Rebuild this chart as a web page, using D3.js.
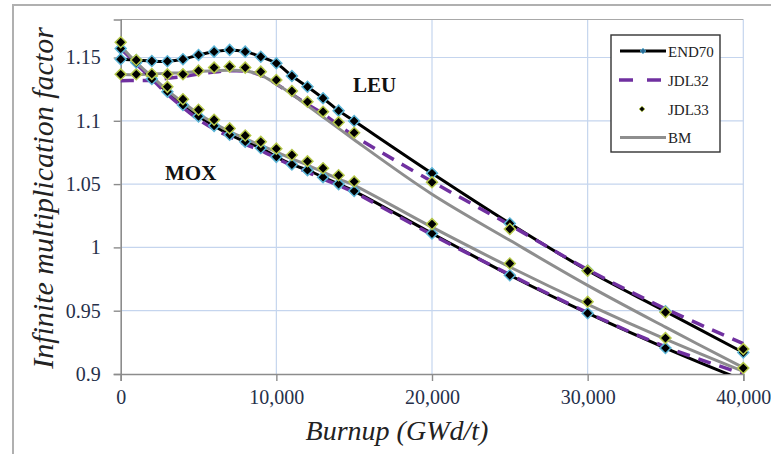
<!DOCTYPE html>
<html>
<head>
<meta charset="utf-8">
<script src="https://cdn.jsdelivr.net/npm/d3@7"></script>
<style>
  html, body { margin: 0; padding: 0; background: #fff; }
  svg { display: block; }
  text { font-family: "Liberation Serif", "Times New Roman", "DejaVu Serif", serif; }
</style>
</head>
<body>
<svg id="chart" width="771" height="454"></svg>
<script>
// ---- data ----
const burnup = [0,1000,2000,3000,4000,5000,6000,7000,8000,9000,10000,11000,12000,13000,14000,15000,20000,25000,30000,35000,40000];

const leuEND70 = [1.1486,1.148,1.1472,1.147,1.1486,1.152,1.1546,1.156,1.1546,1.1506,1.1454,1.1354,1.1269,1.1178,1.108,1.0998,1.0585,1.0189,0.9818,0.9495,0.917];
const leuJDL32 = [1.1317,1.1318,1.132,1.1335,1.135,1.137,1.1385,1.1395,1.1392,1.136,1.129,1.121,1.113,1.1055,1.0965,1.088,1.052,1.0177,0.9825,0.9515,0.924];
const leuJDL33 = [1.1367,1.1367,1.1354,1.1367,1.1367,1.1396,1.142,1.1428,1.142,1.1388,1.1322,1.1235,1.115,1.1072,1.0988,1.0906,1.0514,1.0145,0.9815,0.9488,0.9197];
const leuBM    = [1.1365,1.1365,1.137,1.1375,1.138,1.139,1.1395,1.14,1.1395,1.136,1.129,1.121,1.112,1.103,1.094,1.085,1.042,1.0056,0.970,0.937,0.905];

const moxEND70 = [1.157,1.146,1.133,1.123,1.1125,1.1035,1.096,1.089,1.0835,1.0785,1.0715,1.0655,1.061,1.0555,1.050,1.0445,1.011,0.978,0.948,0.9205,0.895];
const moxJDL32 = [1.157,1.145,1.133,1.121,1.1105,1.101,1.0935,1.0875,1.0815,1.0765,1.0705,1.0645,1.0595,1.054,1.049,1.0435,1.010,0.9785,0.9485,0.9215,0.900];
const moxJDL33 = [1.162,1.148,1.137,1.1268,1.117,1.1087,1.1008,1.094,1.0884,1.0834,1.078,1.073,1.068,1.0625,1.057,1.052,1.0184,0.9873,0.957,0.9284,0.9047];
const moxBM    = [1.159,1.146,1.135,1.124,1.1145,1.1055,1.098,1.0915,1.086,1.0805,1.0755,1.070,1.065,1.0595,1.054,1.049,1.016,0.9845,0.955,0.9275,0.902];

const xTicks = [0,10000,20000,30000,40000];
const yTicks = [0.9,0.95,1,1.05,1.1,1.15];
const seriesNames = ["END70","JDL32","JDL33","BM"];
const groupLabels = ["LEU","MOX"];

// ---- layout ----
const SERIF = '"Liberation Serif", "Times New Roman", serif';
const svg = d3.select("#chart");
const plot = {left: 120.7, right: 743.3, top: 19.5, bottom: 374};
const x = d3.scaleLinear().domain([0,40000]).range([plot.left, plot.right]);
const y = d3.scaleLinear().domain([0.9,1.18]).range([plot.bottom, plot.top]);

// outer frame (top and left edges)
svg.append("path").attr("d","M13,454 L13,5 L771,5")
  .attr("fill","none").attr("stroke","#b0b0b0").attr("stroke-width",2);

// gridlines
const grid = svg.append("g");
grid.selectAll(".hg").data(yTicks.filter(v => v > 0.9)).join("line")
  .attr("x1", plot.left).attr("x2", plot.right)
  .attr("y1", d => y(d)).attr("y2", d => y(d))
  .attr("stroke","#c5d5ee").attr("stroke-width",1.2);
grid.selectAll(".vg").data(xTicks.filter(v => v > 0)).join("line")
  .attr("y1", plot.top).attr("y2", plot.bottom)
  .attr("x1", d => x(d)).attr("x2", d => x(d))
  .attr("stroke","#c5d5ee").attr("stroke-width",1.2);
// plot top border
svg.append("line").attr("x1",plot.left).attr("x2",plot.right).attr("y1",plot.top).attr("y2",plot.top)
  .attr("stroke","#a8a8a8").attr("stroke-width",1.2);

// axes
const yAxis = svg.append("g").attr("transform",`translate(${plot.left},0)`)
  .call(d3.axisLeft(y).tickValues(yTicks).tickSize(7).tickPadding(13).tickFormat(d => String(d)));
const xAxis = svg.append("g").attr("transform",`translate(0,${plot.bottom})`)
  .call(d3.axisBottom(x).tickValues(xTicks).tickSize(7).tickPadding(9).tickFormat(d3.format(",")));
[yAxis, xAxis].forEach(g => {
  g.attr("font-family", SERIF);
  g.select(".domain").attr("stroke","#8c8c8c").attr("stroke-width",1.6);
  g.selectAll(".tick line").attr("stroke","#8c8c8c").attr("stroke-width",1.4);
  g.selectAll(".tick text").attr("fill","#26304a")
    .style("font-family", SERIF).style("font-size","20px");
});

// clip
svg.append("clipPath").attr("id","clip").append("rect")
  .attr("x",plot.left - 8).attr("y",plot.top).attr("width",plot.right-plot.left+16).attr("height",plot.bottom-plot.top);

const layer = svg.append("g").attr("clip-path","url(#clip)");
const lineLayer = layer.append("g");
const markLayer = layer.append("g");
const line = d3.line().x(d => x(d[0])).y(d => y(d[1])).curve(d3.curveCatmullRom.alpha(0.5));
const pts = arr => burnup.map((b,i) => [b, arr[i]]);
const diamond = d3.symbol(d3.symbolSquare, 60);

function drawLine(arr, color, width, dash) {
  lineLayer.append("path").datum(pts(arr)).attr("d", line)
    .attr("fill","none").attr("stroke",color).attr("stroke-width",width)
    .attr("stroke-dasharray", dash || null).attr("stroke-linecap","butt");
}
function drawMarkers(arr, stroke) {
  markLayer.append("g").selectAll("path").data(pts(arr).filter(d => d[1] >= 0.9)).join("path")
    .attr("d", diamond)
    .attr("transform", d => `translate(${x(d[0])},${y(d[1])}) rotate(45)`)
    .attr("fill","#000").attr("stroke",stroke).attr("stroke-width",1.5);
}

[[leuEND70,leuJDL32,leuJDL33,leuBM],[moxEND70,moxJDL32,moxJDL33,moxBM]].forEach(([e,j32,j33,bm]) => {
  drawLine(e, "#000", 3);
  drawLine(j32, "#7030a0", 3.5, "13,9");
  drawLine(bm, "#8e8e8e", 3);
  drawMarkers(e, "#5ab4d6");
  drawMarkers(j33, "#b5c84a");
});

// group labels
svg.append("text").attr("x",353).attr("y",92).text(groupLabels[0]).attr("font-family",SERIF)
  .attr("font-weight","bold").attr("font-size",21).attr("fill","#111");
svg.append("text").attr("x",165).attr("y",180).text(groupLabels[1]).attr("font-family",SERIF)
  .attr("font-weight","bold").attr("font-size",21).attr("fill","#111");

// axis titles
svg.append("text").attr("transform","translate(53,198) rotate(-90)").attr("font-family",SERIF)
  .attr("text-anchor","middle").attr("font-style","italic").attr("font-size",30)
  .attr("fill","#222").text("Infinite multiplication factor");
svg.append("text").attr("x",397).attr("y",440).attr("font-family",SERIF)
  .attr("text-anchor","middle").attr("font-style","italic").attr("font-size",28)
  .attr("fill","#222").text("Burnup (GWd/t)");

// legend
const lg = svg.append("g");
lg.append("rect").attr("x",611).attr("y",35).attr("width",109).attr("height",117)
  .attr("fill","#fff").attr("stroke","#333").attr("stroke-width",1.4);
const rows = [51, 80, 109, 137.5];
seriesNames.forEach((name,i) => {
  const cy = rows[i];
  if (name === "END70") {
    lg.append("line").attr("x1",620).attr("x2",666).attr("y1",cy).attr("y2",cy).attr("stroke","#000").attr("stroke-width",3);
    lg.append("path").attr("d", d3.symbol(d3.symbolSquare, 16)).attr("transform",`translate(643,${cy}) rotate(45)`)
      .attr("fill","#2b6a96").attr("stroke","#5ab4d6").attr("stroke-width",0.8);
  } else if (name === "JDL32") {
    lg.append("line").attr("x1",619).attr("x2",663).attr("y1",cy).attr("y2",cy).attr("stroke","#7030a0")
      .attr("stroke-width",3.5).attr("stroke-dasharray","14,14");
  } else if (name === "JDL33") {
    lg.append("path").attr("d", d3.symbol(d3.symbolSquare, 16)).attr("transform",`translate(642,${cy}) rotate(45)`)
      .attr("fill","#000").attr("stroke","#b5c84a").attr("stroke-width",0.8);
  } else {
    lg.append("line").attr("x1",620).attr("x2",666).attr("y1",cy).attr("y2",cy).attr("stroke","#8e8e8e").attr("stroke-width",3);
  }
  lg.append("text").attr("x",668).attr("y",cy+5.5).attr("font-family",SERIF)
    .attr("font-size",15).attr("fill","#222").text(name);
});
</script>
</body>
</html>
